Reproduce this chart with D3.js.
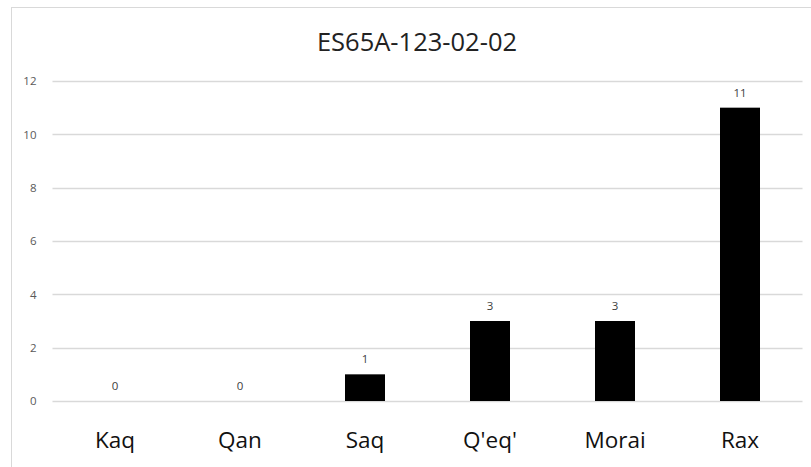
<!DOCTYPE html>
<html>
<head>
<meta charset="utf-8">
<script src="https://cdn.jsdelivr.net/npm/d3@7"></script>
<style>
	body { margin: 0; background: #fff; }
	text { font-family: "Open Sans", sans-serif; }
</style>
</head>
<body>
<svg></svg>
<script>
const width = 811
const height = 467

const title = 'ES65A-123-02-02'
const categories = ['Kaq', 'Qan', 'Saq', "Q'eq'", 'Morai', 'Rax']
const values = [0, 0, 1, 3, 3, 11]
const yTicks = [0, 2, 4, 6, 8, 10, 12]

const margin = { top: 81, right: 8.5, bottom: 66, left: 52.5 }

const svg = d3.select('svg')
	.attr('width', width)
	.attr('height', height)

// chart area frame
svg.append('rect')
	.attr('x', 11.5)
	.attr('y', 7.5)
	.attr('width', width)
	.attr('height', height)
	.attr('fill', 'none')
	.attr('stroke', '#d9d9d9')

const x = d3.scaleBand()
	.domain(categories)
	.range([margin.left, width - margin.right])
	.paddingInner(0.68)
	.paddingOuter(0.34)

const y = d3.scaleLinear()
	.domain([0, 12])
	.range([height - margin.bottom, margin.top])

svg.append('text')
	.attr('x', 417)
	.attr('y', 51)
	.attr('text-anchor', 'middle')
	.attr('font-size', 25.5)
	.attr('fill', '#222')
	.text(title)

// gridlines
svg.append('g')
	.selectAll('line')
	.data(yTicks)
	.enter()
	.append('line')
	.attr('x1', margin.left)
	.attr('x2', width - margin.right)
	.attr('y1', d => Math.round(y(d)) + 0.5)
	.attr('y2', d => Math.round(y(d)) + 0.5)
	.attr('stroke', '#d9d9d9')
	.attr('stroke-width', 1.3)

const yAxis = svg.append('g')
	.attr('transform', 'translate(' + margin.left + ',0)')
	.call(d3.axisLeft(y).tickValues(yTicks).tickSize(0).tickPadding(16))
yAxis.select('.domain').remove()
yAxis.selectAll('text')
	.attr('font-size', 11.5)
	.attr('fill', '#595959')
	.style('font-family', '"Open Sans", sans-serif')

svg.append('g')
	.selectAll('rect')
	.data(values)
	.enter()
	.append('rect')
	.attr('x', (d, i) => x(categories[i]))
	.attr('y', d => y(d))
	.attr('width', x.bandwidth())
	.attr('height', d => y(0) - y(d))
	.attr('fill', '#000')

svg.append('g')
	.selectAll('text')
	.data(values)
	.enter()
	.append('text')
	.attr('x', (d, i) => x(categories[i]) + x.bandwidth() / 2)
	.attr('y', d => y(d) - 11)
	.attr('text-anchor', 'middle')
	.attr('font-size', 11.5)
	.attr('fill', '#404040')
	.text(d => d)

const xAxis = svg.append('g')
	.attr('transform', 'translate(0,' + y(0) + ')')
	.call(d3.axisBottom(x).tickSize(0).tickPadding(31))
xAxis.select('.domain').remove()
xAxis.selectAll('text')
	.attr('font-size', 22.5)
	.attr('fill', '#111')
	.style('font-family', '"Open Sans", sans-serif')
</script>
</body>
</html>
